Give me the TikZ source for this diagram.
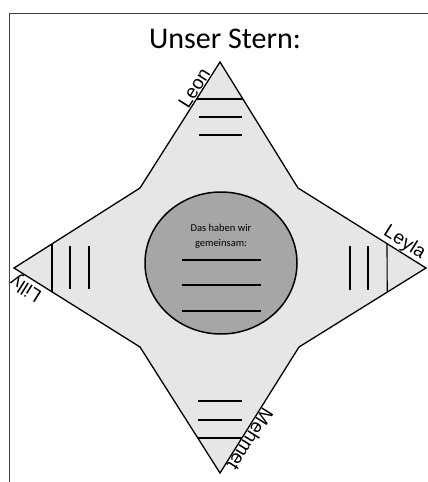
\documentclass[tikz,border=0pt]{standalone}
\usepackage{fontspec}
\setmainfont{Carlito}
\newfontfamily\labelfont{Liberation Sans}
\usetikzlibrary{calc}
\definecolor{starfill}{HTML}{E6E6E6}
\definecolor{circfill}{HTML}{A6A6A6}
\definecolor{framecol}{HTML}{404040}
\tikzset{
  starline/.style={draw=black, line width=1.3pt, line join=miter},
  writeline/.style={draw=black, line width=1.1pt},
  frameline/.style={draw=framecol, line width=1.1pt},
  namelabel/.style={font=\labelfont\fontsize{19}{19}\selectfont, sloped, allow upside down, above, inner sep=1pt},
}
\begin{document}
\begin{tikzpicture}[x=1pt,y=-1pt]
\useasboundingbox (0,0) rectangle (428,482);
% frame
\draw[frameline] (9.5,482) -- (9.5,13.5) -- (428,13.5);
% title
\node[font=\fontsize{30}{30}\selectfont, anchor=base] (title) at (225,48) {Unser Stern:};
% star points
\coordinate (T) at (220,62);
\coordinate (UL) at (140,188);
\coordinate (L) at (14,268);
\coordinate (LL) at (140,347);
\coordinate (B) at (220,473);
\coordinate (LR) at (299,347);
\coordinate (R) at (426,268);
\coordinate (UR) at (298,188);
\filldraw[starline, fill=starfill] (T) -- (UL) -- (L) -- (LL) -- (B) -- (LR) -- (R) -- (UR) -- cycle;
% top lines
\draw[writeline] ($(T)!0.2937!(UL)$) -- ($(T)!0.2937!(UR)$);
\draw[writeline] (199,117) -- (242,117);
\draw[writeline] (199,135) -- (242,135);
% bottom lines
\draw[writeline] (198,401) -- (242,401);
\draw[writeline] (198,420) -- (242,420);
\draw[writeline] ($(B)!0.278!(LL)$) -- ($(B)!0.278!(LR)$);
% left lines
\draw[writeline] ($(L)!0.3016!(UL)$) -- ($(L)!0.3016!(LL)$);
\draw[writeline] (70,246) -- (70,289);
\draw[writeline] (89,246) -- (89,289);
% right lines
\draw[writeline] ($(R)!0.305!(UR)$) -- ($(R)!0.305!(LR)$);
\draw[writeline] (350,246) -- (350,290);
\draw[writeline] (368,246) -- (368,290);
% circle
\draw[fill=circfill, line width=1.5pt] (221,263) ellipse[x radius=76, y radius=71];
\node[font=\fontsize{10.5}{15}\selectfont, align=center, anchor=base] (common) at (221,246.5) {Das haben wir\\gemeinsam:};
\draw[writeline] (182,260) -- (261,260);
\draw[writeline] (182,285) -- (261,285);
\draw[writeline] (182,311) -- (261,311);
% names
\path (UL) -- (T) node[namelabel, pos=0.76] (leon) {Leon};
\path (UR) -- (R) node[namelabel, pos=0.79] (leyla) {Leyla};
\path (LL) -- (L) node[namelabel, pos=0.86] (lilly) {Lilly};
\path (LR) -- (B) node[namelabel, pos=0.70] (mehmet) {Mehmet};
\end{tikzpicture}
\end{document}
